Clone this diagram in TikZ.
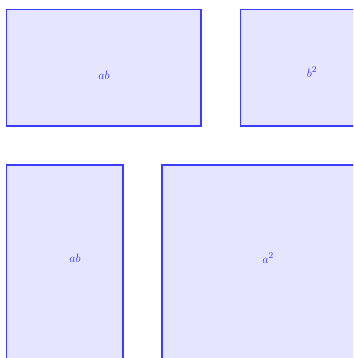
\documentclass[tikz,border=0pt]{standalone}
\definecolor{edgeblue}{RGB}{60,60,255}
\definecolor{fillblue}{RGB}{229,229,255}
\definecolor{textblue}{RGB}{50,50,240}
\begin{document}
\begin{tikzpicture}[x=1pt,y=-1pt,
  sq/.style={draw=edgeblue,fill=fillblue,line width=1.6pt},
  lbl/.style={text=textblue,font=\fontsize{13}{15}\selectfont}]
\useasboundingbox (0,0) rectangle (353,358);
\clip (0,0) rectangle (353,358);
\fill[white] (0,0) rectangle (353,358);
\draw[sq] (6.5,9.5) rectangle (201,126);
\draw[sq] (240.5,9.5) rectangle (380,126);
\draw[sq] (6.5,165) rectangle (123,380);
\draw[sq] (162,165) rectangle (380,380);
\node[lbl] (l1) at (104,75) {$ab$};
\node[lbl] (l2) at (312,72) {$b^2$};
\node[lbl] (l3) at (75,258) {$ab$};
\node[lbl] (l4) at (268,258) {$a^2$};
\end{tikzpicture}
\end{document}
